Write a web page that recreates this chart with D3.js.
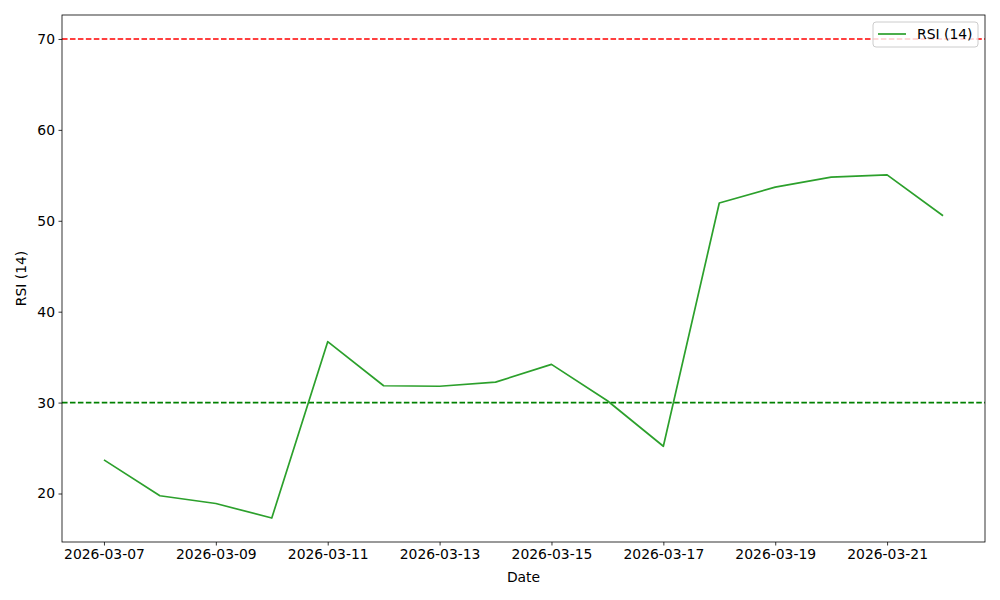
<!DOCTYPE html>
<html>
<head>
<meta charset="utf-8">
<script src="https://cdn.jsdelivr.net/npm/d3@7"></script>
<style>
  body { margin: 0; background: #fff; }
  svg { display: block; font-family: "DejaVu Sans", sans-serif; }
</style>
</head>
<body>
<svg id="chart"></svg>
<script>
// data
const dates = ['2026-03-07','2026-03-08','2026-03-09','2026-03-10','2026-03-11','2026-03-12',
  '2026-03-13','2026-03-14','2026-03-15','2026-03-16','2026-03-17','2026-03-18',
  '2026-03-19','2026-03-20','2026-03-21','2026-03-22'];
const rsi = [23.7, 19.75, 18.9, 17.3, 36.7, 31.85, 31.8, 32.25, 34.2, 30.2, 25.2, 51.95,
  53.7, 54.8, 55.05, 50.55];
const xTicks = ['2026-03-07','2026-03-09','2026-03-11','2026-03-13','2026-03-15',
  '2026-03-17','2026-03-19','2026-03-21'];
const yTicks = [20, 30, 40, 50, 60, 70];
const overbought = 70;
const oversold = 30;

const width = 1000, height = 600;
const margin = {top: 15, right: 15, bottom: 58, left: 62};
const fs = 13.9;
const parse = d3.utcParse('%Y-%m-%d');

const svg = d3.select('#chart').attr('width', width).attr('height', height);

const t0 = parse(dates[0]), t1 = parse(dates[dates.length - 1]);
const pad = (t1 - t0) * 0.05;
const x = d3.scaleUtc()
  .domain([new Date(+t0 - pad), new Date(+t1 + pad)])
  .range([margin.left, width - margin.right]);

const yMin = d3.min(rsi), yMax = 70;
const yPad = (yMax - yMin) * 0.05;
const y = d3.scaleLinear()
  .domain([yMin - yPad, yMax + yPad])
  .range([height - margin.bottom, margin.top]);

const plot = svg.append('g');

// threshold lines
plot.append('line')
  .attr('x1', margin.left).attr('x2', width - margin.right)
  .attr('y1', y(overbought)).attr('y2', y(overbought))
  .attr('stroke', '#ff0000').attr('stroke-width', 1.6)
  .attr('stroke-dasharray', '5.55,2.4');
plot.append('line')
  .attr('x1', margin.left).attr('x2', width - margin.right)
  .attr('y1', y(oversold)).attr('y2', y(oversold))
  .attr('stroke', '#008000').attr('stroke-width', 1.6)
  .attr('stroke-dasharray', '5.55,2.4');

// rsi line
const line = d3.line()
  .x((d, i) => x(parse(dates[i])))
  .y(d => y(d));
plot.append('path')
  .datum(rsi)
  .attr('d', line)
  .attr('fill', 'none')
  .attr('stroke', '#2ca02c')
  .attr('stroke-width', 1.7)
  .attr('stroke-linejoin', 'round');

// axes
const xAxis = d3.axisBottom(x)
  .tickValues(xTicks.map(parse))
  .tickFormat(d3.utcFormat('%Y-%m-%d'))
  .tickSize(3.5).tickPadding(3.5);
const gx = svg.append('g')
  .attr('transform', `translate(0,${height - margin.bottom})`)
  .call(xAxis);

const yAxis = d3.axisLeft(y)
  .tickValues(yTicks)
  .tickSize(3.5).tickPadding(3.5);
const gy = svg.append('g')
  .attr('transform', `translate(${margin.left},0)`)
  .call(yAxis);

[gx, gy].forEach(g => {
  g.select('.domain').remove();
  g.selectAll('text').attr('font-size', fs).attr('fill', '#000')
    .attr('font-family', '"DejaVu Sans", sans-serif');
  g.selectAll('line').attr('stroke', '#000').attr('stroke-width', 0.8);
});

// frame
svg.append('rect')
  .attr('x', margin.left).attr('y', margin.top)
  .attr('width', width - margin.left - margin.right)
  .attr('height', height - margin.top - margin.bottom)
  .attr('fill', 'none').attr('stroke', '#000').attr('stroke-width', 0.8);

// axis labels
svg.append('text')
  .attr('x', (margin.left + width - margin.right) / 2)
  .attr('y', 582)
  .attr('text-anchor', 'middle')
  .attr('font-size', fs)
  .text('Date');
svg.append('text')
  .attr('transform', `translate(26,${(margin.top + height - margin.bottom) / 2}) rotate(-90)`)
  .attr('text-anchor', 'middle')
  .attr('font-size', fs)
  .text('RSI (14)');

// legend
const lg = svg.append('g').attr('transform', 'translate(873,22)');
lg.append('rect')
  .attr('width', 105).attr('height', 25).attr('rx', 3)
  .attr('fill', '#fff').attr('fill-opacity', 0.8)
  .attr('stroke', '#cccccc').attr('stroke-width', 1);
lg.append('line')
  .attr('x1', 5).attr('x2', 33).attr('y1', 12).attr('y2', 12)
  .attr('stroke', '#2ca02c').attr('stroke-width', 1.7);
lg.append('text')
  .attr('x', 44).attr('y', 17)
  .attr('font-size', fs)
  .text('RSI (14)');
</script>
</body>
</html>
